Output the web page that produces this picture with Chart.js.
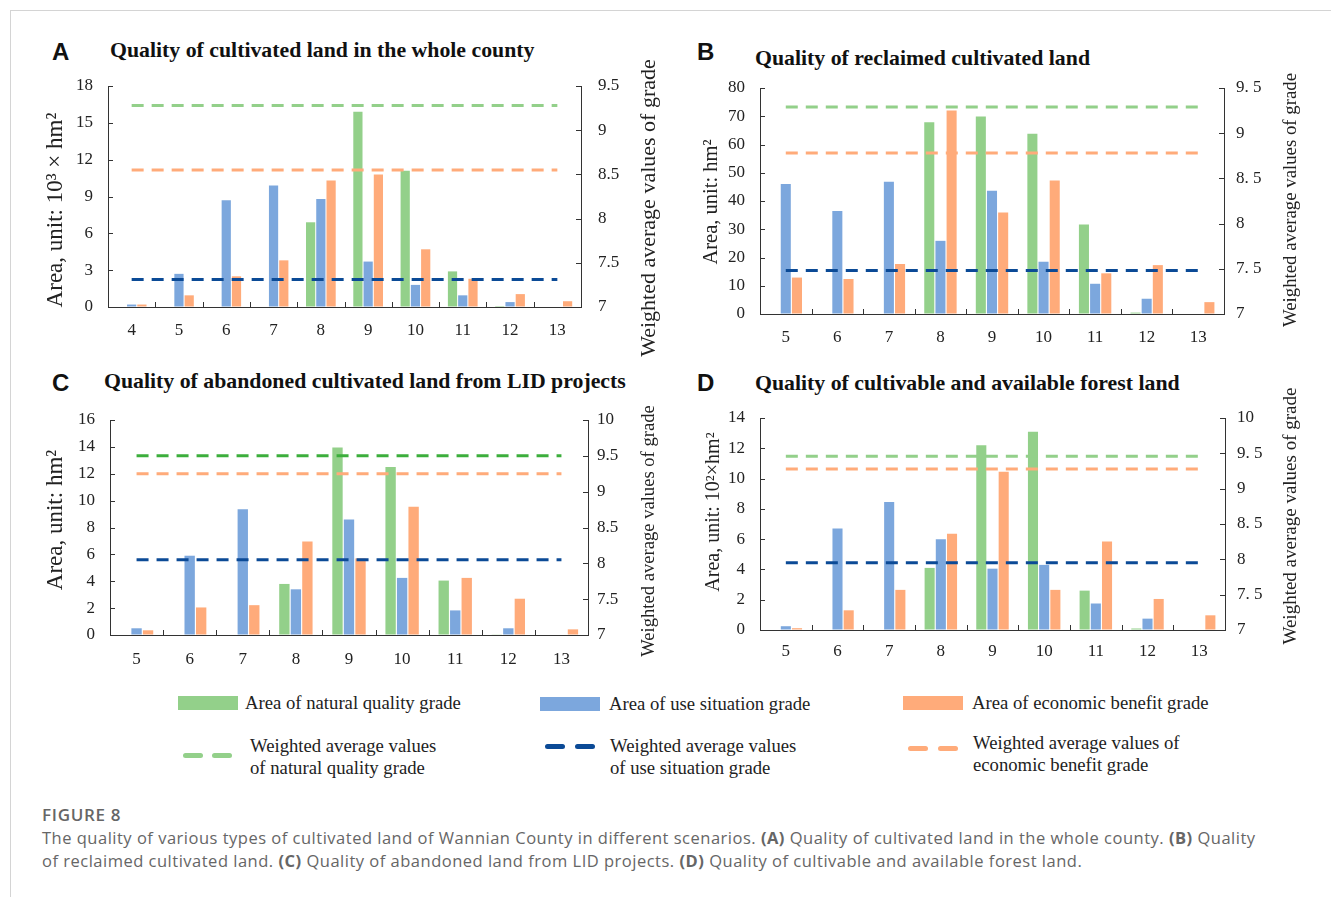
<!DOCTYPE html>
<html>
<head>
<meta charset="utf-8">
<script src="https://cdn.jsdelivr.net/npm/chart.js@4.4.1/dist/chart.umd.min.js"></script>
<style>
  body { margin: 0; width: 1331px; height: 897px; background: #fff; position: relative; overflow: hidden; font-family: "Liberation Serif", serif; color: #222; }
  .frame { position: absolute; left: 10px; top: 10px; right: -2px; bottom: -2px; border-top: 1px solid #d4d4d4; border-left: 1px solid #d4d4d4; }
  canvas { position: absolute; }
  .letter { position: absolute; font: bold 24px "Liberation Sans", Arial, sans-serif; color: #111; transform: translateY(-50%); }
  .title { position: absolute; font: bold 21.8px "Liberation Serif", serif; color: #111; transform: translateY(-50%); white-space: nowrap; }
  .rtitle { position: absolute; white-space: nowrap; color: #222; transform: translate(-50%, -50%) rotate(-90deg); }
  .lg { position: absolute; font-size: 18.7px; color: #222; line-height: 22px; white-space: nowrap; }
  .box { position: absolute; height: 14px; width: 60px; }
  .dash { position: absolute; height: 5px; width: 20px; border-radius: 3px; }
  .cap { position: absolute; left: 42px; font-family: "Open Sans", sans-serif; color: #666; white-space: nowrap; }
</style>
</head>
<body>
<div class="frame"></div>

<div class="letter" style="left:52px;top:52px">A</div>
<div class="title" style="left:110px;top:50px">Quality of cultivated land in the whole county</div>
<div class="letter" style="left:697px;top:52px">B</div>
<div class="title" style="left:755px;top:58px">Quality of reclaimed cultivated land</div>
<div class="letter" style="left:52px;top:383px">C</div>
<div class="title" style="left:104px;top:381px">Quality of abandoned cultivated land from LID projects</div>
<div class="letter" style="left:697px;top:383px">D</div>
<div class="title" style="left:755px;top:383px">Quality of cultivable and available forest land</div>

<canvas id="chartA" width="640" height="290" style="left:30px;top:70px"></canvas>
<canvas id="chartB" width="640" height="290" style="left:680px;top:70px"></canvas>
<canvas id="chartC" width="640" height="280" style="left:30px;top:400px"></canvas>
<canvas id="chartD" width="640" height="275" style="left:680px;top:400px"></canvas>

<!-- axis titles, rotated to read bottom-up on both sides -->
<div class="rtitle" style="left:55px;top:210px;font-size:23px">Area, unit: 10³ × hm²</div>
<div class="rtitle" style="left:710px;top:202px;font-size:20.5px">Area, unit: hm²</div>
<div class="rtitle" style="left:55px;top:520px;font-size:23px">Area, unit: hm²</div>
<div class="rtitle" style="left:712px;top:512px;font-size:20px">Area, unit: 10²×hm²</div>

<div class="rtitle" style="left:648px;top:208px;font-size:22px">Weighted average values of grade</div>
<div class="rtitle" style="left:1290px;top:200px;font-size:18.8px">Weighted average values of grade</div>
<div class="rtitle" style="left:648px;top:531px;font-size:18.6px">Weighted average values of grade</div>
<div class="rtitle" style="left:1290px;top:516px;font-size:19px">Weighted average values of grade</div>

<!-- shared legend -->
<div class="box" style="left:178px;top:696px;background:#93d08a"></div>
<div class="lg" style="left:245px;top:692px">Area of natural quality grade</div>
<div class="box" style="left:540px;top:697px;background:#7ca7dd"></div>
<div class="lg" style="left:609px;top:693px">Area of use situation grade</div>
<div class="box" style="left:903px;top:696px;background:#ffab7a"></div>
<div class="lg" style="left:972px;top:692px">Area of economic benefit grade</div>

<div class="dash" style="left:183px;top:753px;background:#93d08a"></div>
<div class="dash" style="left:212px;top:753px;background:#93d08a"></div>
<div class="lg" style="left:250px;top:735px">Weighted average values<br>of natural quality grade</div>
<div class="dash" style="left:545px;top:744px;background:#0b4a96"></div>
<div class="dash" style="left:575px;top:744px;background:#0b4a96"></div>
<div class="lg" style="left:610px;top:735px">Weighted average values<br>of use situation grade</div>
<div class="dash" style="left:908px;top:746px;background:#ffab7a"></div>
<div class="dash" style="left:938px;top:746px;background:#ffab7a"></div>
<div class="lg" style="left:973px;top:732px">Weighted average values of<br>economic benefit grade</div>

<div class="cap" style="top:803px;font-size:17px;font-weight:600;letter-spacing:0.7px">FIGURE 8</div>
<div class="cap" style="top:826px;font-size:16.5px;line-height:23px;letter-spacing:0.5px">The quality of various types of cultivated land of Wannian County in different scenarios. <b>(A)</b> Quality of cultivated land in the whole county. <b>(B)</b> Quality<br>of reclaimed cultivated land. <b>(C)</b> Quality of abandoned land from LID projects. <b>(D)</b> Quality of cultivable and available forest land.</div>

<script>
// grades along the x axis
const gradesA = ["4", "5", "6", "7", "8", "9", "10", "11", "12", "13"];
const gradesBCD = ["5", "6", "7", "8", "9", "10", "11", "12", "13"];

// A - whole county (10^3 hm2)
const naturalA = [0, 0, 0, 0, 6.9, 15.9, 11.1, 2.9, 0.08, 0];
const useA = [0.2, 2.7, 8.7, 9.9, 8.8, 3.7, 1.8, 0.95, 0.4, 0];
const economicA = [0.2, 0.95, 2.5, 3.8, 10.3, 10.8, 4.7, 2.3, 1.05, 0.47];
const avgA = { natural: 9.28, use: 7.31, economic: 8.55 };

// B - reclaimed cultivated land (hm2)
const naturalB = [0, 0, 0, 67.9, 69.9, 63.8, 31.7, 0.5, 0];
const useB = [46, 36.5, 46.8, 25.9, 43.6, 18.5, 10.7, 5.4, 0];
const economicB = [12.9, 12.4, 17.7, 72, 35.9, 47.3, 14.4, 17.3, 4.2];
const avgB = { natural: 9.29, use: 7.48, economic: 8.78 };

// C - abandoned land from LID projects (hm2)
const naturalC = [0, 0, 0, 3.8, 13.95, 12.5, 4.05, 0.05, 0];
const useC = [0.5, 5.9, 9.35, 3.4, 8.6, 4.25, 1.83, 0.5, 0];
const economicC = [0.35, 2.05, 2.22, 6.95, 5.7, 9.55, 4.25, 2.7, 0.42];
const avgC = { natural: 9.5, use: 8.05, economic: 9.25 };

// D - cultivable and available forest land (10^2 hm2)
const naturalD = [0, 0, 0, 4.1, 12.2, 13.1, 2.6, 0.1, 0];
const useD = [0.25, 6.7, 8.45, 6.0, 4.05, 4.3, 1.75, 0.75, 0];
const economicD = [0.12, 1.3, 2.65, 6.35, 10.45, 2.65, 5.85, 2.05, 0.97];
const avgD = { natural: 9.46, use: 7.95, economic: 9.28 };

const GREEN = "#93d08a";
const BLUE = "#7ca7dd";
const ORANGE = "#ffab7a";
const NAVY = "#0b4a96";
const AXIS = "#333";
const SERIF = "'Liberation Serif', 'Times New Roman', serif";

// short inward ticks: x axis at category boundaries, both y axes at their ticks
const innerTicks = {
  id: "innerTicks",
  afterDraw(chart) {
    const { ctx, chartArea, scales } = chart;
    const x = scales.x;
    const n = x.ticks.length;
    ctx.save();
    ctx.strokeStyle = AXIS;
    ctx.lineWidth = 1;
    ctx.beginPath();
    for (let i = 0; i <= n; i++) {
      const px = Math.round(x.left + (x.width * i) / n) + 0.5;
      ctx.moveTo(px, chartArea.bottom);
      ctx.lineTo(px, chartArea.bottom - 5);
    }
    scales.y.ticks.forEach((t) => {
      const py = Math.round(scales.y.getPixelForValue(t.value)) + 0.5;
      ctx.moveTo(chartArea.left, py);
      ctx.lineTo(chartArea.left + 5, py);
    });
    scales.y1.ticks.forEach((t) => {
      const py = Math.round(scales.y1.getPixelForValue(t.value)) + 0.5;
      ctx.moveTo(chartArea.right, py);
      ctx.lineTo(chartArea.right - 5, py);
    });
    ctx.stroke();
    ctx.restore();
  },
};

function avgLine(label, grades, value, color) {
  return {
    type: "line",
    label,
    data: [
      { x: grades[0], y: value },
      { x: grades[grades.length - 1], y: value },
    ],
    yAxisID: "y1",
    borderColor: color,
    borderWidth: 3,
    borderDash: [12, 8],
    pointRadius: 0,
    fill: false,
    order: 1,
  };
}

function barSet(label, data, color) {
  return {
    label,
    data,
    backgroundColor: color,
    yAxisID: "y",
    categoryPercentage: 0.65,
    barPercentage: 0.9,
    order: 2,
  };
}

// fix an axis box size and drop the label overflow padding chart.js adds
function fixBox(size, horizontal) {
  return (s) => {
    if (horizontal) s.height = size;
    else s.width = size;
    s.paddingTop = 0;
    s.paddingBottom = 0;
    s.paddingLeft = 0;
    s.paddingRight = 0;
  };
}

function createPanel(canvasId, grades, natural, use, economic, avg, cfg) {
  const ctx = document.getElementById(canvasId).getContext("2d");
  return new Chart(ctx, {
    type: "bar",
    data: {
      labels: grades,
      datasets: [
        barSet("Area of natural quality grade", natural, GREEN),
        barSet("Area of use situation grade", use, BLUE),
        barSet("Area of economic benefit grade", economic, ORANGE),
        avgLine("Weighted average values of natural quality grade", grades, avg.natural, cfg.greenLine || GREEN),
        avgLine("Weighted average values of use situation grade", grades, avg.use, NAVY),
        avgLine("Weighted average values of economic benefit grade", grades, avg.economic, ORANGE),
      ],
    },
    options: {
      responsive: false,
      animation: false,
      layout: { padding: { top: cfg.padTop, left: 0, right: 0, bottom: 0 } },
      plugins: { legend: { display: false }, tooltip: { enabled: false } },
      scales: {
        x: {
          offset: true,
          grid: { drawOnChartArea: false, drawTicks: false },
          border: { color: AXIS },
          ticks: { color: "#222", padding: cfg.xPad, font: { family: SERIF, size: 17 } },
          afterFit: fixBox(cfg.xHeight, true),
        },
        y: {
          position: "left",
          min: 0,
          max: cfg.leftMax,
          ticks: { stepSize: cfg.leftStep, color: "#222", padding: 15, font: { family: SERIF, size: 17 } },
          grid: { drawOnChartArea: false, drawTicks: false },
          border: { color: AXIS },
          afterFit: fixBox(cfg.yWidth, false),
        },
        y1: {
          position: "right",
          min: 7,
          max: cfg.rightMax,
          ticks: {
            stepSize: 0.5,
            color: "#222",
            padding: cfg.rightPad,
            font: { family: SERIF, size: 17 },
            callback: (v) => (cfg.spaced ? String(v).replace(".", ". ") : String(v)),
          },
          grid: { drawOnChartArea: false, drawTicks: false },
          border: { color: AXIS },
          afterFit: fixBox(cfg.y1Width, false),
        },
      },
    },
    plugins: [innerTicks],
  });
}

createPanel("chartA", gradesA, naturalA, useA, economicA, avgA, {
  padTop: 16, xHeight: 53, xPad: 13, yWidth: 78, y1Width: 89, rightPad: 17,
  leftMax: 18, leftStep: 3, rightMax: 9.5,
});

createPanel("chartB", gradesBCD, naturalB, useB, economicB, avgB, {
  padTop: 18, xHeight: 46, xPad: 13, yWidth: 80, y1Width: 96, rightPad: 12,
  leftMax: 80, leftStep: 10, rightMax: 9.5, spaced: true,
});

createPanel("chartC", gradesBCD, naturalC, useC, economicC, avgC, {
  padTop: 20, xHeight: 45, xPad: 14, yWidth: 80, y1Width: 82, rightPad: 9,
  leftMax: 16, leftStep: 2, rightMax: 10, greenLine: "#3cae3c",
});

createPanel("chartD", gradesBCD, naturalD, useD, economicD, avgD, {
  padTop: 18, xHeight: 45, xPad: 11, yWidth: 80, y1Width: 95, rightPad: 12,
  leftMax: 14, leftStep: 2, rightMax: 10, spaced: true,
});
</script>
</body>
</html>
